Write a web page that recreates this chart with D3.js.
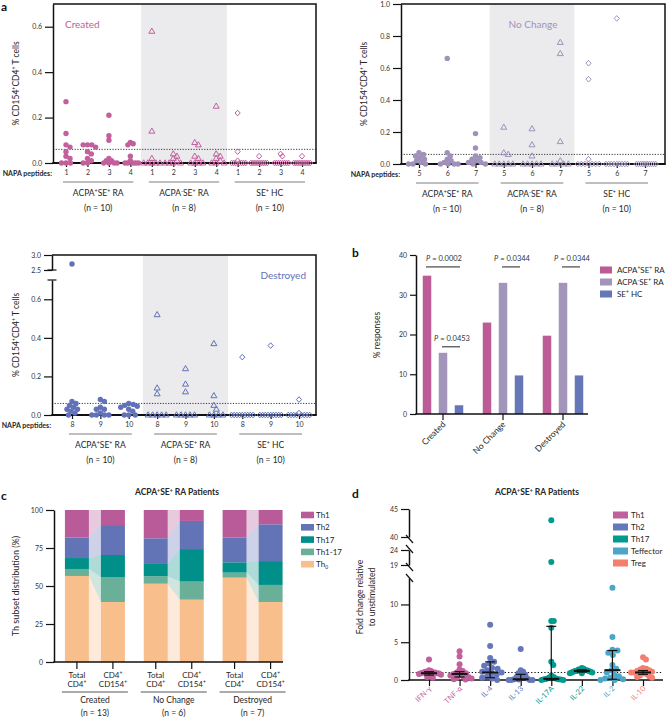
<!DOCTYPE html>
<html><head><meta charset="utf-8">
<script src="https://cdn.jsdelivr.net/npm/d3@7"></script>
<style>body{margin:0;background:#fff}svg{font-family:Lato,"Open Sans",sans-serif}</style>
</head><body><svg id="c" width="667" height="717"></svg>
<script>
// ---------------- DATA ----------------
const groupNames = ["ACPA^+SE^+ RA", "ACPA^-SE^+ RA", "SE^+ HC"];
const groupN = ["(n = 10)", "(n = 8)", "(n = 10)"];
const threshold = 0.06;

const createdPeptides = ["1", "2", "3", "4"];
const createdACPApos = [[0.27,0.13,0.08,0.07,0.05,0.03,0.02,0,0,0],[0.08,0.08,0.08,0.07,0.05,0.04,0.02,0.01,0,0],[0.21,0.12,0.10,0.02,0.01,0.01,0,0,0,0],[0.09,0.085,0.08,0.03,0.01,0,0,0,0,0]];
const createdACPAneg = [[0.58,0.14,0.02,0,0,0,0,0],[0.04,0.03,0.02,0.01,0,0,0,0],[0.09,0.08,0.03,0.02,0,0,0,0],[0.25,0.04,0.03,0.02,0.01,0,0,0]];
const createdHC = [[0.22,0.05,0.01,0,0,0,0,0,0,0],[0.03,0,0,0,0,0,0,0,0,0],[0.04,0.03,0,0,0,0,0,0,0,0],[0.03,0,0,0,0,0,0,0,0,0]];

const noChangePeptides = ["5", "6", "7"];
const noChangeACPApos = [[0.07,0.06,0.05,0.04,0.03,0.02,0.01,0,0,0],[0.66,0.07,0.05,0.03,0.02,0.01,0,0,0,0],[0.19,0.10,0.05,0.04,0.03,0.02,0.01,0.01,0,0]];
const noChangeACPAneg = [[0.23,0.07,0.06,0,0,0,0,0],[0.22,0.12,0.05,0,0,0,0,0],[0.76,0.69,0.14,0.02,0,0,0,0]];
const noChangeHC = [[0.63,0.53,0.03,0,0,0,0,0,0,0],[0.91,0,0,0,0,0,0,0,0,0],[0,0,0,0,0,0,0,0,0,0]];

const destroyedPeptides = ["8", "9", "10"];
const destroyedACPApos = [[2.7,0.07,0.06,0.05,0.04,0.03,0.03,0.02,0.01,0],[0.08,0.07,0.04,0.03,0.03,0.01,0,0,0,0],[0.06,0.055,0.05,0.045,0.04,0.03,0.02,0,0,0]];
const destroyedACPAneg = [[0.52,0.14,0.11,0,0,0,0,0],[0.24,0.16,0.12,0,0,0,0,0],[0.37,0.10,0.05,0.03,0,0,0,0]];
const destroyedHC = [[0.30,0,0,0,0,0,0,0,0,0],[0.36,0,0,0,0,0,0,0,0,0],[0.08,0.01,0,0,0,0,0,0,0,0]];

// panel b
const bCategories = ["Created", "No Change", "Destroyed"];
const bSeries = ["ACPA^+SE^+ RA", "ACPA^-SE^+ RA", "SE^+ HC"];
const bACPApos = [34.8, 23.0, 19.7];
const bACPAneg = [15.4, 33.0, 33.0];
const bHC = [2.2, 9.7, 9.7];
const bPvalues = ["0.0002", "0.0453", "0.0344", "0.0344"];

// panel c
const cGroups = ["Created", "No Change", "Destroyed"];
const cGroupN = ["(n = 13)", "(n = 6)", "(n = 7)"];
const cBars = ["Total|CD4^+", "CD4^+|CD154^+"];
const cSubsets = ["Th1", "Th2", "Th17", "Th1-17", "Th_0"];
const cTh0 =   [56.6, 39.5, 51.5, 41.0, 55.5, 39.5];
const cTh1_17 = [4.6, 16.4, 4.9, 11.9, 3.3, 11.2];
const cTh17 =  [7.2, 14.5, 8.1, 21.4, 6.8, 15.7];
const cTh2 =   [13.6, 19.7, 16.9, 18.5, 16.4, 24.2];
const cTh1 =   [18.0, 9.9, 18.6, 7.2, 18.0, 9.4];

// panel d
const dCytokines = ["IFN-γ", "TNF-α", "IL-4", "IL-13", "IL-17A", "IL-22", "IL-2", "IL-10"];
const dLegend = ["Th1", "Th2", "Th17", "Teffector", "Treg"];
const dCytoGroup = [0, 0, 1, 1, 2, 2, 3, 4];
const dValues = [
  [2.7,1.3,1.2,1.1,1.0,1.0,0.95,0.9,0.9,0.85,0.8,0.7,0.6,0.5,0.4,0.3,1.1],
  [3.8,3.1,2.1,1.4,1.2,1.0,0.9,0.8,0.7,0.6,0.5,0.4,0.3,0.2,0.1,0.05],
  [7.3,4.5,2.9,2.4,2.2,1.9,1.6,1.5,1.3,1.1,1.0,0.9,0.7,0.5,0.3,0.2,0.0],
  [4.1,1.3,1.1,0.9,0.7,0.5,0.4,0.3,0.2,0.1,0.05,0,0,0,0],
  [43,20,7.8,7.8,6.9,2.4,2.0,0.6,0.4,0.3,0.2,0.15,0.1,0.1,0.05,0,0],
  [1.6,1.5,1.4,1.4,1.3,1.3,1.2,1.2,1.2,1.1,1.1,1.0,1.0,0.9,0.9],
  [12.2,5.7,4.0,3.9,3.6,3.3,2.0,1.5,1.3,1.0,0.7,0.5,0.3,0.2,0.1,0.0,0.0],
  [3.0,2.7,1.6,1.5,1.4,1.3,1.2,1.1,1.0,1.0,0.9,0.8,0.6,0.5,0.4,0.3]
];
const dMedian = [0.9, 0.8, 1.0, 0.1, 0.15, 1.2, 1.3, 1.0];
const dLower = [0.65, 0.4, 0.3, 0.0, 0.0, 1.05, 0.1, 0.75];
const dUpper = [1.1, 1.1, 2.4, 0.75, 7.1, 1.35, 3.9, 1.25];

// ---------------- STYLE ----------------
const PINK = "#c2609c", LAV = "#9f91ba", BLUE = "#6272b8", GRAY = "#ebebed";
const bColors = ["#bd5b97", "#a394b9", "#6677b7"];
const cColors = ["#b95b98", "#6273b6", "#009089", "#6aaf98", "#f8bf8c"];
const dColors = ["#c0609c", "#6676bb", "#009a8e", "#4ba6c8", "#f47f6f"];

const svg = d3.select("#c");

function rich(t, str, fs) {
  const parts = str.split(/(\^.|_.)/).filter(s => s !== "");
  let cur = 0;
  parts.forEach(p => {
    let target = 0, txt = p, size = fs;
    if (p.length === 2 && p[0] === "^") { target = -0.38 * fs; txt = p[1]; size = fs * 0.62; }
    else if (p.length === 2 && p[0] === "_") { target = 0.22 * fs; txt = p[1]; size = fs * 0.62; }
    t.append("tspan").attr("dy", (target - cur).toFixed(2)).attr("font-size", size).text(txt);
    cur = target;
  });
  return t;
}
function label(parent, x, y, str, fs, o = {}) {
  const t = parent.append("text").attr("x", x).attr("y", y).attr("font-size", fs)
    .attr("text-anchor", o.anchor || "start").attr("fill", o.fill || "#262626")
    .attr("font-weight", o.weight || "normal");
  if (o.rotate != null) t.attr("transform", `rotate(${o.rotate},${x},${y})`);
  return rich(t, str, fs);
}
function styleAxis(sel, fs) {
  sel.attr("font-family", null).attr("font-size", null);
  sel.selectAll("text").attr("font-size", fs).attr("fill", "#333");
  sel.selectAll(".tick line").attr("stroke", "#111").attr("stroke-width", 1.2);
  sel.select(".domain").attr("stroke", "#111").attr("stroke-width", 1.5);
}
function swarm(vals, yf, dist, maxHalf) {
  const order = vals.map((v, i) => i).sort((a, b) => vals[b] - vals[a]);
  const placed = [], out = new Array(vals.length).fill(0);
  order.forEach(i => {
    const y = yf(vals[i]);
    for (let k = 0; k < 400; k++) {
      const off = (k % 2 ? 1 : -1) * Math.ceil(k / 2) * 0.5;
      if (placed.every(p => (p.x - off) ** 2 + (p.y - y) ** 2 >= dist * dist)) {
        out[i] = off; placed.push({ x: off, y }); break;
      }
    }
  });
  const m = d3.max(out, Math.abs);
  if (m > maxHalf) for (let i = 0; i < out.length; i++) out[i] *= maxHalf / m;
  return out;
}
function marker(g, kind, x, y, color) {
  if (kind === 0) g.append("circle").attr("cx", x).attr("cy", y).attr("r", 2.7).attr("fill", color);
  else if (kind === 1) g.append("path").attr("d", `M${x},${y - 3.2}L${x + 3},${y + 2}L${x - 3},${y + 2}Z`).attr("fill", "none").attr("stroke", color).attr("stroke-width", 1);
  else g.append("path").attr("d", `M${x},${y - 2.8}L${x + 2.6},${y}L${x},${y + 2.8}L${x - 2.6},${y}Z`).attr("fill", "none").attr("stroke", color).attr("stroke-width", 1);
}

// ---------------- PANEL A ----------------
function drawPanelA(cfg) {
  const g = svg.append("g");
  const np = cfg.peptides.length;
  const x = d3.scalePoint().domain(d3.range(3 * np)).range([cfg.xFirst, cfg.xLast]);
  const step = x.step();
  g.append("rect").attr("x", x(np) - step / 2).attr("y", cfg.top).attr("width", step * np)
    .attr("height", cfg.base - cfg.top).attr("fill", GRAY);
  const ty = cfg.yf(threshold);
  g.append("line").attr("x1", cfg.x0).attr("x2", cfg.x1).attr("y1", ty).attr("y2", ty)
    .attr("stroke", "#222").attr("stroke-width", 0.9).attr("stroke-dasharray", "1.2,1.5");
  g.append("path").attr("d", `M${cfg.x0},${cfg.top}H${cfg.x1}V${cfg.base}`).attr("fill", "none")
    .attr("stroke", "#111").attr("stroke-width", 1.5);
  cfg.yAxes.forEach(a => {
    const ax = g.append("g").attr("transform", `translate(${cfg.x0},0)`)
      .call(d3.axisLeft(a.scale).tickValues(a.ticks).tickFormat(d3.format(".1f")).tickSize(8).tickPadding(3).tickSizeOuter(0));
    styleAxis(ax, 7);
  });
  (cfg.caps || []).forEach(y => g.append("line").attr("x1", cfg.x0 - 4.5).attr("x2", cfg.x0 + 4.5)
    .attr("y1", y).attr("y2", y).attr("stroke", "#111").attr("stroke-width", 1.2));
  const xa = g.append("g").attr("transform", `translate(0,${cfg.base})`)
    .call(d3.axisBottom(x).tickFormat(k => cfg.peptides[k % np]).tickSize(4).tickPadding(3));
  xa.select(".domain").remove();
  styleAxis(xa, 7);
  g.append("line").attr("x1", cfg.x0 - 0.75).attr("x2", cfg.x1 + 0.75).attr("y1", cfg.base).attr("y2", cfg.base)
    .attr("stroke", "#111").attr("stroke-width", 1.8);
  label(g, cfg.x0 - 1, cfg.base + 13, "NAPA peptides:", 7, { anchor: "end", weight: "bold" });
  groupNames.forEach((gn, gi) => {
    const a0 = x(gi * np) - 3, a1 = x(gi * np + np - 1) + 3, mid = (a0 + a1) / 2;
    g.append("line").attr("x1", a0).attr("x2", a1).attr("y1", cfg.base + 19).attr("y2", cfg.base + 19)
      .attr("stroke", "#a8a8a8").attr("stroke-width", 1.4);
    label(g, mid, cfg.base + 33, gn, 8.5, { anchor: "middle" });
    label(g, mid, cfg.base + 48, groupN[gi], 8.5, { anchor: "middle" });
  });
  cfg.groups.forEach((gv, gi) => {
    gv.forEach((vals, pi) => {
      const cx = x(gi * np + pi);
      const offs = swarm(vals, cfg.yf, 4.4, step * 0.38);
      vals.forEach((v, i) => marker(g, gi, cx + offs[i], cfg.yf(v), cfg.color));
    });
  });
  label(g, cfg.titleX, cfg.titleY, cfg.title, 10, { anchor: cfg.titleAnchor, fill: cfg.color });
  label(g, cfg.yLabelX, (cfg.top + cfg.base) / 2, "% CD154^+CD4^+ T cells", 8.5, { anchor: "middle", rotate: -90 });
}

const yCreated = d3.scaleLinear([0, 0.7], [163, 4]);
drawPanelA({ peptides: createdPeptides, groups: [createdACPApos, createdACPAneg, createdHC], color: PINK,
  x0: 53, x1: 316, xFirst: 66, xLast: 302, top: 4, base: 163, yf: yCreated,
  yAxes: [{ scale: yCreated, ticks: [0, 0.2, 0.4, 0.6] }],
  title: "Created", titleX: 65, titleY: 28, titleAnchor: "start", yLabelX: 19 });

const yNoChange = d3.scaleLinear([0, 1], [164, 4]);
drawPanelA({ peptides: noChangePeptides, groups: [noChangeACPApos, noChangeACPAneg, noChangeHC], color: LAV,
  x0: 401, x1: 665, xFirst: 419, xLast: 645, top: 4, base: 164, yf: yNoChange,
  yAxes: [{ scale: yNoChange, ticks: [0, 0.2, 0.4, 0.6, 0.8, 1.0] }],
  title: "No Change", titleX: 533, titleY: 28, titleAnchor: "middle", yLabelX: 367 });

const yDesLow = d3.scaleLinear([0, 0.7], [415, 280]);
const yDesHigh = d3.scaleLinear([2.5, 3.0], [270, 255]);
const yDes = v => v >= 2.5 ? yDesHigh(v) : yDesLow(v);
drawPanelA({ peptides: destroyedPeptides, groups: [destroyedACPApos, destroyedACPAneg, destroyedHC], color: BLUE,
  x0: 52, x1: 316, xFirst: 72, xLast: 299, top: 255, base: 415, yf: yDes,
  yAxes: [{ scale: yDesLow, ticks: [0, 0.2, 0.4, 0.6] }, { scale: yDesHigh, ticks: [2.5, 3.0] }],
  caps: [270, 280],
  title: "Destroyed", titleX: 306, titleY: 279, titleAnchor: "end", yLabelX: 19 });

label(svg, 1, 11, "a", 12, { weight: "bold", fill: "#111" });

// ---------------- PANEL B ----------------
(function () {
  const g = svg.append("g");
  const y = d3.scaleLinear([0, 40], [414, 255]);
  const x = d3.scaleBand().domain(bCategories).range([413, 593]);
  const xs = d3.scalePoint().domain(d3.range(3)).range([-16, 16]);
  const bw = 8.5;
  const series = [bACPApos, bACPAneg, bHC];
  series.forEach((vals, si) => {
    g.selectAll(null).data(vals).join("rect")
      .attr("x", (d, i) => x(bCategories[i]) + x.bandwidth() / 2 + xs(si) - bw / 2)
      .attr("width", bw).attr("y", d => y(d)).attr("height", d => y(0) - y(d)).attr("fill", bColors[si]);
  });
  const ya = g.append("g").attr("transform", "translate(416,0)")
    .call(d3.axisLeft(y).tickValues([0, 10, 20, 30, 40]).tickSize(6).tickPadding(3).tickSizeOuter(0));
  styleAxis(ya, 7);
  const xa = g.append("g").attr("transform", "translate(0,414)").call(d3.axisBottom(x).tickSize(6).tickFormat(""));
  xa.select(".domain").remove();
  styleAxis(xa, 8);
  g.append("line").attr("x1", 415.25).attr("x2", 588).attr("y1", 414).attr("y2", 414).attr("stroke", "#111").attr("stroke-width", 1.6);
  bCategories.forEach(c => {
    const cx = x(c) + x.bandwidth() / 2 + 3, cy = 425;
    label(g, cx, cy, c, 8.5, { anchor: "end", rotate: -45 });
  });
  // significance: [category, series from, series to, line level (axis units), p]
  const sig = [[0, 0, 2, 37.0, bPvalues[0]], [0, 1, 2, 16.9, bPvalues[1]], [1, 1, 2, 37.0, bPvalues[2]], [2, 1, 2, 37.0, bPvalues[3]]];
  sig.forEach(([ci, s0, s1, lv, p]) => {
    const c0 = x(bCategories[ci]) + x.bandwidth() / 2;
    const xa0 = c0 + xs(s0) - 1, xa1 = c0 + xs(s1) + 1;
    const ly = y(lv);
    g.append("line").attr("x1", xa0).attr("x2", xa1).attr("y1", ly).attr("y2", ly).attr("stroke", "#222").attr("stroke-width", 1);
    const t = g.append("text").attr("x", (xa0 + xa1) / 2 + 1).attr("y", ly - 6).attr("text-anchor", "middle")
      .attr("font-size", 7.5).attr("fill", "#333");
    t.append("tspan").attr("font-style", "italic").text("P");
    t.append("tspan").text(" = " + p);
  });
  label(g, 380, 335, "% responses", 8.5, { anchor: "middle", rotate: -90 });
  bSeries.forEach((s, i) => {
    const ly = 270 + i * 12;
    g.append("rect").attr("x", 600).attr("y", ly - 3.5).attr("width", 12).attr("height", 7).attr("fill", bColors[i]);
    label(g, 617, ly + 3, s, 8, {});
  });
  label(svg, 352, 257, "b", 12, { weight: "bold", fill: "#111" });
})();

// ---------------- PANEL C ----------------
(function () {
  const g = svg.append("g");
  const y = d3.scaleLinear([0, 100], [662, 510]);
  const xg = d3.scaleBand().domain(cGroups).range([55.5, 292]);
  const bw = 24;
  const barX = i => xg(cGroups[Math.floor(i / 2)]) + xg.bandwidth() / 2 + (i % 2 ? 18 : -18);
  const keys = ["Th_0", "Th1-17", "Th17", "Th2", "Th1"];
  const table = cTh0.map((v, i) => ({ "Th_0": v, "Th1-17": cTh1_17[i], "Th17": cTh17[i], "Th2": cTh2[i], "Th1": cTh1[i] }));
  const stack = d3.stack().keys(keys)(table);
  const colorOf = k => cColors[cSubsets.indexOf(k)];
  stack.forEach(layer => {
    const col = colorOf(layer.key);
    for (let gi = 0; gi < 3; gi++) {
      const a = layer[gi * 2], b = layer[gi * 2 + 1];
      const xa = barX(gi * 2) + bw / 2, xb = barX(gi * 2 + 1) - bw / 2;
      g.append("path").attr("d", `M${xa},${y(a[1])}L${xb},${y(b[1])}L${xb},${y(b[0])}L${xa},${y(a[0])}Z`)
        .attr("fill", col).attr("fill-opacity", 0.32);
    }
    g.selectAll(null).data(layer).join("rect")
      .attr("x", (d, i) => barX(i) - bw / 2).attr("width", bw)
      .attr("y", d => y(d[1])).attr("height", d => y(d[0]) - y(d[1])).attr("fill", col);
  });
  const ya = g.append("g").attr("transform", "translate(54,0)")
    .call(d3.axisLeft(y).tickValues([0, 25, 50, 75, 100]).tickSize(8).tickPadding(3).tickSizeOuter(0));
  styleAxis(ya, 7);
  g.append("line").attr("x1", 53.25).attr("x2", 283).attr("y1", 662).attr("y2", 662).attr("stroke", "#111").attr("stroke-width", 1.6);
  d3.range(6).forEach(i => {
    const bx = barX(i);
    g.append("line").attr("x1", bx).attr("x2", bx).attr("y1", 662).attr("y2", 669).attr("stroke", "#111").attr("stroke-width", 1.2);
    const [l1, l2] = cBars[i % 2].split("|");
    label(g, bx, 678, l1, 8, { anchor: "middle" });
    label(g, bx, 687, l2, 8, { anchor: "middle" });
  });
  cGroups.forEach((gn, gi) => {
    const a0 = barX(gi * 2) - bw / 2 - 3, a1 = barX(gi * 2 + 1) + bw / 2 + 3, mid = (a0 + a1) / 2;
    g.append("line").attr("x1", a0).attr("x2", a1).attr("y1", 692).attr("y2", 692).attr("stroke", "#444").attr("stroke-width", 0.9);
    label(g, mid, 703, gn, 8.5, { anchor: "middle" });
    label(g, mid, 716, cGroupN[gi], 8.5, { anchor: "middle" });
  });
  label(g, 19, 586, "Th subset distribution (%)", 9, { anchor: "middle", rotate: -90 });
  label(g, 177, 495, "ACPA^+SE^+ RA Patients", 8.5, { anchor: "middle", weight: "bold" });
  cSubsets.forEach((s, i) => {
    const ly = 515 + i * 12.3;
    g.append("rect").attr("x", 301).attr("y", ly - 3.3).attr("width", 13).attr("height", 6.6).attr("fill", cColors[i]);
    label(g, 316, ly + 3, s, 8, {});
  });
  label(svg, 1, 500, "c", 12, { weight: "bold", fill: "#111" });
})();

// ---------------- PANEL D ----------------
(function () {
  const g = svg.append("g");
  const dTop = d3.scaleLinear([40, 45], [537, 509]);
  const dMid = d3.scaleLinear([19, 24], [565, 550]);
  const dLow = d3.scaleLinear([0, 13.5], [680, 578]);
  const yf = v => v >= 30 ? dTop(v) : v >= 16 ? dMid(v) : dLow(v);
  const x = d3.scalePoint().domain(dCytokines).range([429, 643]);
  const ax0 = 409;
  [[dTop, [40, 45]], [dMid, [19, 24]], [dLow, [0, 5, 10]]].forEach(([s, t]) => {
    const a = g.append("g").attr("transform", `translate(${ax0},0)`)
      .call(d3.axisLeft(s).tickValues(t).tickFormat(d3.format("d")).tickSize(8).tickPadding(3).tickSizeOuter(0));
    styleAxis(a, 7);
  });
  [539, 549, 567, 578].forEach(sy => g.append("line").attr("x1", ax0 - 3).attr("x2", ax0 + 4)
    .attr("y1", sy - 4).attr("y2", sy + 4).attr("stroke", "#111").attr("stroke-width", 1.2));
  const xa = g.append("g").attr("transform", "translate(0,680)").call(d3.axisBottom(x).tickSize(6).tickFormat(""));
  xa.select(".domain").remove();
  styleAxis(xa, 7);
  g.append("line").attr("x1", ax0 - 0.75).attr("x2", 663).attr("y1", 680).attr("y2", 680).attr("stroke", "#111").attr("stroke-width", 1.6);
  const ty = yf(1);
  g.append("line").attr("x1", ax0).attr("x2", 663).attr("y1", ty).attr("y2", ty)
    .attr("stroke", "#111").attr("stroke-width", 1.1).attr("stroke-dasharray", "1.3,2");
  dCytokines.forEach((c, ci) => {
    const col = dColors[dCytoGroup[ci]];
    const cx = x(c);
    const vals = dValues[ci];
    const offs = swarm(vals, yf, 5.2, 12);
    vals.forEach((v, i) => g.append("circle").attr("cx", cx + offs[i]).attr("cy", yf(v)).attr("r", 3).attr("fill", col));
    g.append("line").attr("x1", cx).attr("x2", cx).attr("y1", yf(dLower[ci])).attr("y2", yf(dUpper[ci])).attr("stroke", "#111").attr("stroke-width", 1.2);
    [dLower[ci], dUpper[ci]].forEach(v => g.append("line").attr("x1", cx - 5).attr("x2", cx + 5).attr("y1", yf(v)).attr("y2", yf(v)).attr("stroke", "#111").attr("stroke-width", 1.2));
    g.append("line").attr("x1", cx - 8).attr("x2", cx + 8).attr("y1", yf(dMedian[ci])).attr("y2", yf(dMedian[ci])).attr("stroke", "#111").attr("stroke-width", 2);
    label(g, cx + 3, 689, c, 7.5, { anchor: "end", rotate: -45, fill: col });
  });
  label(g, 363, 597, "Fold change relative", 8.5, { anchor: "middle", rotate: -90 });
  label(g, 375, 597, "to unstimulated", 8.5, { anchor: "middle", rotate: -90 });
  label(g, 537, 495, "ACPA^+SE^+ RA Patients", 8.5, { anchor: "middle", weight: "bold" });
  dLegend.forEach((s, i) => {
    const ly = 515 + i * 12;
    g.append("rect").attr("x", 613).attr("y", ly - 3.5).attr("width", 15).attr("height", 7).attr("fill", dColors[i]);
    label(g, 631, ly + 3, s, 8, {});
  });
  label(svg, 352, 498, "d", 12, { weight: "bold", fill: "#111" });
})();
</script></body></html>
